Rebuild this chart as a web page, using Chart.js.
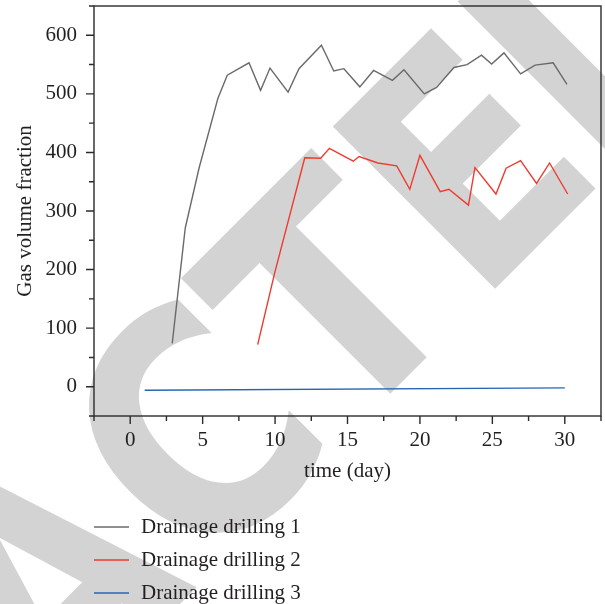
<!DOCTYPE html>
<html>
<head>
<meta charset="utf-8">
<script src="https://cdn.jsdelivr.net/npm/chart.js@4.4.0/dist/chart.umd.min.js"></script>
<style>
  html, body { margin: 0; padding: 0; background: #fff; }
  canvas { display: block; }
</style>
</head>
<body>
<canvas id="gas-chart" width="605" height="604"></canvas>
<script>
// values (day, gas volume fraction)
const drill1Days = [2.9, 3.8, 4.75, 6.05, 6.7, 8.2, 9.0, 9.65, 10.9, 11.65, 13.2, 14.05, 14.75, 15.85, 16.8, 18.1, 18.9, 20.3, 21.15, 22.35, 23.25, 24.25, 24.95, 25.8, 26.95, 27.95, 29.2, 30.15];
const drill1Gas = [74, 271, 373, 492, 532, 553, 506, 544, 503, 543, 583, 539, 543, 512, 540, 523, 541, 500, 511, 545, 550, 566, 551, 570, 534, 549, 553, 516];

const drill2Days = [8.8, 9.97, 12.05, 13.15, 13.75, 15.4, 15.8, 17.1, 18.4, 19.3, 20.0, 21.4, 22.0, 23.35, 23.8, 25.25, 25.95, 26.95, 28.05, 28.95, 30.2];
const drill2Gas = [72, 194, 391, 390, 407, 385, 393, 382, 377, 337, 395, 333, 337, 310, 374, 329, 373, 386, 347, 382, 329];

const drill3Days = [1, 30];
const drill3Gas = [-6, -2];

const seriesNames = ['Drainage drilling 1', 'Drainage drilling 2', 'Drainage drilling 3'];
const seriesColors = ['#6a6a6a', '#ee3b30', '#2466b4'];

const xTickValues = [0, 5, 10, 15, 20, 25, 30];
const yTickValues = [0, 100, 200, 300, 400, 500, 600];

const textColor = '#231f20';
const serif = { family: '"Liberation Serif", "Times New Roman", serif', size: 21 };

function toPoints(days, vals) {
    return days.map((d, i) => ({ x: d, y: vals[i] }));
}

// big grey stamp behind the chart, letters placed along a 45 degree baseline
const watermark = {
    id: 'watermark',
    beforeDraw(chart) {
        const ctx = chart.ctx;
        ctx.save();
        ctx.fillStyle = '#fff';
        ctx.fillRect(0, 0, chart.width, chart.height);
        ctx.fillStyle = '#d3d3d3';
        ctx.font = 'bold 315px "DejaVu Sans", sans-serif';
        ctx.textAlign = 'left';
        ctx.textBaseline = 'alphabetic';
        ctx.translate(409, 375);
        ctx.rotate(-Math.PI / 4);
        [['R', -605], ['A', -404], ['C', -195], ['T', 0], ['E', 193], ['D', 391]].forEach(([ch, c]) => {
            const m = ctx.measureText(ch);
            const mid = (m.actualBoundingBoxRight - m.actualBoundingBoxLeft) / 2;
            ctx.save();
            ctx.translate(c, 0);
            ctx.scale(0.87, 1);
            ctx.fillText(ch, -mid, 0);
            ctx.restore();
        });
        ctx.restore();
    }
};

// box frame plus major/minor tick marks
const frame = {
    id: 'frame',
    afterDatasetsDraw(chart) {
        const { ctx, chartArea: a, scales: { x, y } } = chart;
        ctx.save();
        ctx.strokeStyle = '#2b2b2b';
        ctx.lineWidth = 1.4;
        ctx.strokeRect(a.left, a.top, a.right - a.left, a.bottom - a.top);
        ctx.beginPath();
        for (let v = x.min; v <= x.max + 0.01; v += 2.5) {
            const px = x.getPixelForValue(v);
            const len = Math.abs(v % 5) < 0.01 ? 8 : 5;
            ctx.moveTo(px, a.bottom);
            ctx.lineTo(px, a.bottom + len);
        }
        for (let v = y.min; v <= y.max + 0.01; v += 50) {
            const py = y.getPixelForValue(v);
            const len = Math.abs(v % 100) < 0.01 ? 8 : 5;
            ctx.moveTo(a.left, py);
            ctx.lineTo(a.left - len, py);
        }
        ctx.stroke();
        ctx.restore();
    }
};

// legend as a vertical list under the axis title
const listLegend = {
    id: 'listLegend',
    afterDraw(chart) {
        const ctx = chart.ctx;
        ctx.save();
        ctx.font = serif.size + 'px ' + serif.family;
        ctx.textBaseline = 'alphabetic';
        ctx.textAlign = 'left';
        chart.data.datasets.forEach((ds, i) => {
            const lineY = 527 + i * 33;
            ctx.strokeStyle = ds.borderColor;
            ctx.lineWidth = 1.5;
            ctx.beginPath();
            ctx.moveTo(94, lineY);
            ctx.lineTo(129, lineY);
            ctx.stroke();
            ctx.fillStyle = textColor;
            ctx.fillText(ds.label, 141, lineY + 6);
        });
        ctx.restore();
    }
};

new Chart(document.querySelector('#gas-chart').getContext('2d'), {
    type: 'line',
    data: {
        datasets: [
            { label: seriesNames[0], data: toPoints(drill1Days, drill1Gas), borderColor: seriesColors[0] },
            { label: seriesNames[1], data: toPoints(drill2Days, drill2Gas), borderColor: seriesColors[1] },
            { label: seriesNames[2], data: toPoints(drill3Days, drill3Gas), borderColor: seriesColors[2] }
        ].map(ds => ({ ...ds, borderWidth: 1.4, pointRadius: 0, tension: 0, fill: false }))
    },
    options: {
        responsive: false,
        animation: false,
        devicePixelRatio: 1,
        layout: { padding: { top: 6, right: 4, bottom: 116, left: 0 } },
        plugins: { legend: { display: false }, tooltip: { enabled: false } },
        scales: {
            x: {
                type: 'linear',
                min: -2.5,
                max: 32.5,
                afterBuildTicks: s => { s.ticks = xTickValues.map(v => ({ value: v })); },
                afterFit: s => { s.height = 72; s.paddingLeft = 0; s.paddingRight = 0; },
                grid: { display: false, drawTicks: false },
                border: { display: false },
                ticks: { font: serif, color: textColor, padding: 12, maxRotation: 0, autoSkip: false },
                title: { display: true, text: 'time (day)', font: serif, color: textColor, padding: { top: 0, bottom: 4 } }
            },
            y: {
                type: 'linear',
                min: -50,
                max: 650,
                afterBuildTicks: s => { s.ticks = yTickValues.map(v => ({ value: v })); },
                afterFit: s => { s.width = 94; s.paddingTop = 0; s.paddingBottom = 0; },
                grid: { display: false, drawTicks: false },
                border: { display: false },
                ticks: { font: serif, color: textColor, padding: 17, autoSkip: false },
                title: { display: true, text: 'Gas volume fraction', font: serif, color: textColor, padding: { top: 13, bottom: 0 } }
            }
        }
    },
    plugins: [watermark, frame, listLegend]
});
</script>
</body>
</html>
